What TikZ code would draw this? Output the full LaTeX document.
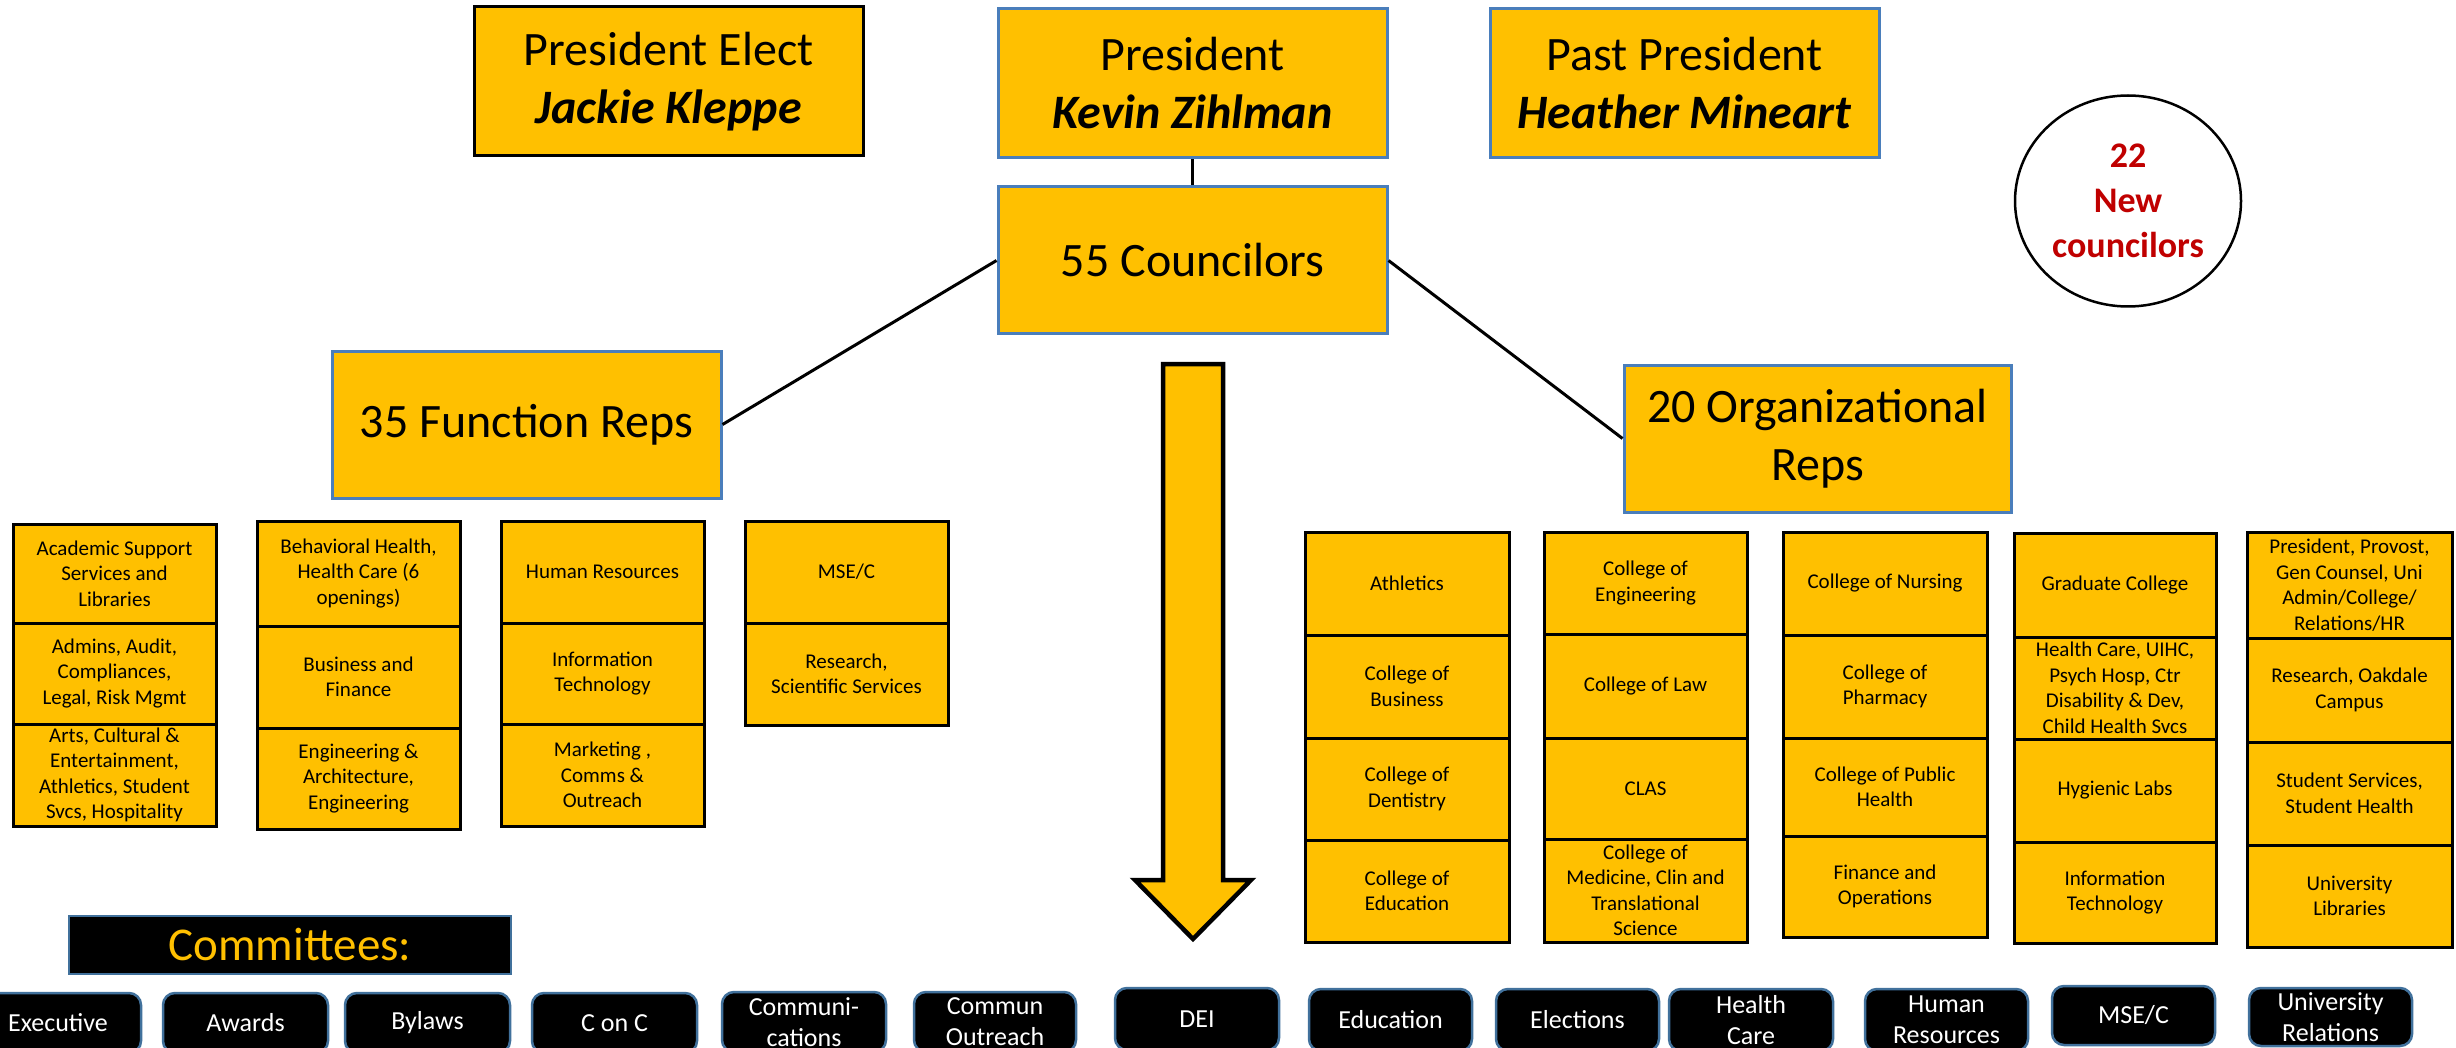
\documentclass[tikz,border=0pt]{standalone}
\usepackage{fontspec}
\setmainfont{Carlito}
\usetikzlibrary{shapes.geometric}
\definecolor{gold}{HTML}{FFC000}
\definecolor{bborder}{HTML}{4A7EBB}
\definecolor{btnborder}{HTML}{41719C}
\definecolor{newred}{HTML}{C00000}
\tikzset{
  topbox/.style={fill=gold, line width=3pt, align=center, inner sep=0pt, font=\fontsize{48}{58}\selectfont},
  blackedge/.style={draw=black},
  blueedge/.style={draw=bborder},
  smallbox/.style={fill=gold, draw=black, line width=3pt, align=center, inner sep=0pt, font=\fontsize{21}{25.5}\selectfont},
  btn/.style={fill=black, draw=btnborder, line width=2.5pt, rounded corners=12pt, align=center, inner sep=0pt, text=white, font=\fontsize{26}{31}\selectfont},
  commbox/.style={fill=black, draw=btnborder, line width=2.5pt, inner sep=0pt, text=gold, font=\fontsize{47}{55}\selectfont},
  link/.style={draw=black, line width=3pt},
  bigarrow/.style={fill=gold, draw=black, line width=4.5pt, line join=miter},
  newcircle/.style={draw=black, line width=2.5pt, ellipse, inner sep=0pt, align=center, text=newred, font=\bfseries\fontsize{36}{45}\selectfont},
}
% #1 style, #2 name, #3 x1, #4 y1, #5 x2, #6 y2, #7 text
\newcommand{\obox}[7][]{%
  \pgfmathsetmacro{\oboxw}{#5-#3}%
  \pgfmathsetmacro{\oboxh}{#6-#4}%
  \node[#1, minimum width=\oboxw pt, minimum height=\oboxh pt] (#2) at ({(#3+#5)/2},{(#4+#6)/2}) {#7};%
}
\begin{document}
\begin{tikzpicture}[x=1pt, y=-1pt]
\useasboundingbox (0,0) rectangle (2456,1048);
\clip (0,0) rectangle (2456,1048);
\fill[white] (0,0) rectangle (2456,1048);

% top row
\obox[topbox, blackedge]{pelect}{474}{7}{863}{156}{President Elect\\\textbf{\textit{Jackie Kleppe}}}
\obox[topbox, blueedge]{pres}{998}{9}{1387}{158}{President\\\textbf{\textit{Kevin Zihlman}}}
\obox[topbox, blueedge]{ppres}{1490}{9}{1879}{158}{Past President\\\textbf{\textit{Heather Mineart}}}
\node[newcircle, minimum width=226pt, minimum height=211pt] (newc) at (2128,201) {22\\New\\councilors};

% second level
\obox[topbox, blueedge]{coun}{998}{187}{1387}{334}{55 Councilors}
\obox[topbox, blueedge]{func}{332}{351}{721}{498}{35 Function Reps}
\obox[topbox, blueedge]{org}{1624}{365}{2011}{512}{20 Organizational\\Reps}

\draw[link] (pres.south) -- (coun.north);
\draw[link] (coun.west) -- (func.east);
\draw[link] (coun.east) -- (org.west);

% big arrow
\draw[bigarrow] (1163,364) -- (1223,364) -- (1223,880) -- (1251,880) -- (1193,939) -- (1135,880) -- (1163,880) -- cycle;

% function rep columns
\obox[smallbox]{f11}{13}{524}{216}{623}{Academic Support\\Services and\\Libraries}
\obox[smallbox]{f12}{13}{623}{216}{724}{Admins, Audit,\\Compliances,\\Legal, Risk Mgmt}
\obox[smallbox]{f13}{13}{724}{216}{826}{Arts, Cultural \&\\Entertainment,\\Athletics, Student\\Svcs, Hospitality}
\obox[smallbox]{f21}{257}{521}{460}{626}{Behavioral Health,\\Health Care (6\\openings)}
\obox[smallbox]{f22}{257}{626}{460}{728}{Business and\\Finance}
\obox[smallbox]{f23}{257}{728}{460}{829}{Engineering \&\\Architecture,\\Engineering}
\obox[smallbox]{f31}{501}{521}{704}{623}{Human Resources}
\obox[smallbox]{f32}{501}{623}{704}{724}{Information\\Technology}
\obox[smallbox]{f33}{501}{724}{704}{826}{Marketing ,\\Comms \&\\Outreach}
\obox[smallbox]{f41}{745}{521}{948}{623}{MSE/C}
\obox[smallbox]{f42}{745}{623}{948}{725}{Research,\\Scientific Services}

% organizational rep columns
\obox[smallbox]{oa1}{1305}{532}{1509}{635}{Athletics}
\obox[smallbox]{oa2}{1305}{635}{1509}{738}{College of\\Business}
\obox[smallbox]{oa3}{1305}{738}{1509}{840}{College of\\Dentistry}
\obox[smallbox]{oa4}{1305}{840}{1509}{942}{College of\\Education}
\obox[smallbox]{ob1}{1544}{532}{1747}{634}{College of\\Engineering}
\obox[smallbox]{ob2}{1544}{634}{1747}{738}{College of Law}
\obox[smallbox]{ob3}{1544}{738}{1747}{839}{CLAS}
\obox[smallbox]{ob4}{1544}{839}{1747}{942}{College of\\Medicine, Clin and\\Translational\\Science}
\obox[smallbox]{oc1}{1783}{532}{1987}{635}{College of Nursing}
\obox[smallbox]{oc2}{1783}{635}{1987}{738}{College of\\Pharmacy}
\obox[smallbox]{oc3}{1783}{738}{1987}{836}{College of Public\\Health}
\obox[smallbox]{oc4}{1783}{836}{1987}{937}{Finance and\\Operations}
\obox[smallbox]{od1}{2014}{533}{2216}{637}{Graduate College}
\obox[smallbox]{od2}{2014}{637}{2216}{739}{Health Care, UIHC,\\Psych Hosp, Ctr\\Disability \& Dev,\\Child Health Svcs}
\obox[smallbox]{od3}{2014}{739}{2216}{842}{Hygienic Labs}
\obox[smallbox]{od4}{2014}{842}{2216}{943}{Information\\Technology}
\obox[smallbox]{oe1}{2247}{532}{2452}{638}{President, Provost,\\Gen Counsel, Uni\\Admin/College/\\Relations/HR}
\obox[smallbox]{oe2}{2247}{638}{2452}{742}{Research, Oakdale\\Campus}
\obox[smallbox]{oe3}{2247}{742}{2452}{845}{Student Services,\\Student Health}
\obox[smallbox]{oe4}{2247}{845}{2452}{947}{University\\Libraries}

% committees
\obox[commbox]{comm}{69}{916}{511}{974}{Committees:}
\obox[btn]{c1}{-25}{993}{141}{1053}{Executive}
\obox[btn]{c2}{163}{993}{328}{1053}{Awards}
\obox[btn]{c3}{345}{993}{510}{1053}{Bylaws}
\obox[btn]{c4}{532}{993}{697}{1053}{C on C}
\obox[btn]{c5}{722}{992}{886}{1052}{Communi-\\cations}
\obox[btn]{c6}{914}{992}{1076}{1052}{Commun\\Outreach}
\obox[btn]{c7}{1115}{988}{1279}{1050}{DEI}
\obox[btn]{c8}{1309}{989}{1472}{1051}{Education}
\obox[btn]{c9}{1496}{989}{1659}{1051}{Elections}
\obox[btn]{c10}{1669}{989}{1833}{1051}{Health\\Care}
\obox[btn]{c11}{1865}{989}{2028}{1051}{Human\\Resources}
\obox[btn]{c12}{2052}{986}{2215}{1045}{MSE/C}
\obox[btn]{c13}{2249}{988}{2412}{1046}{University\\Relations}
\end{tikzpicture}
\end{document}
